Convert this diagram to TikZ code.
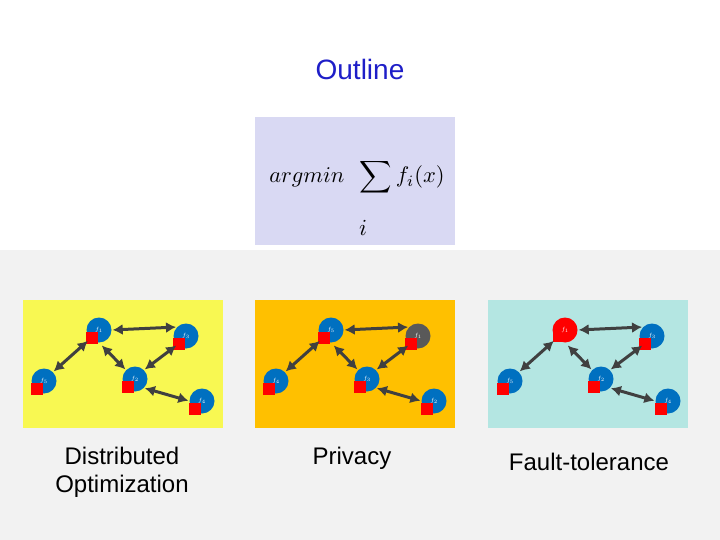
\documentclass[tikz,border=0pt]{standalone}
\usepackage{fontspec}
\setmainfont{Liberation Sans}
\usepackage{tikz}
\usetikzlibrary{arrows.meta}

\definecolor{slidegray}{RGB}{242,242,242}
\definecolor{titleblue}{RGB}{30,30,200}
\definecolor{formulabg}{RGB}{217,217,243}
\definecolor{panelyellow}{RGB}{248,248,82}
\definecolor{panelorange}{RGB}{255,192,0}
\definecolor{panelteal}{RGB}{180,230,226}
\definecolor{agentblue}{RGB}{0,112,192}
\definecolor{agentgray}{RGB}{89,89,89}
\definecolor{linkgray}{RGB}{64,64,64}

% one agent: blue blob with its red square
\newcommand{\agent}[4]{%
  \node[agent, fill=#4] (#1) at (#2) {$f_{#3}$};
  \fill[red] ([shift={(-13,2)}]#1.center) rectangle ++(12,12);
}

\begin{document}
\begin{tikzpicture}[
			x=1pt, y=-1pt,
			agent/.style={circle, minimum size=25pt, inner sep=0pt, text=white, font=\fontsize{6}{6}\selectfont},
			link/.style={{Latex[length=10pt,width=11pt]}-{Latex[length=10pt,width=11pt]}, draw=linkgray, line width=3pt, shorten <=1pt, shorten >=1pt},
			caption/.style={align=center, font=\fontsize{24}{28}\selectfont}
			]
			% Sfondo
			\useasboundingbox (0,0) rectangle (720,540);
			\fill[white] (0,0) rectangle (720,250);
			\fill[slidegray] (0,250) rectangle (720,540);
			
			% Titolo e formula
			\node[text=titleblue, font=\fontsize{28}{32}\selectfont] (title) at (360,69) {Outline};
			\fill[formulabg] (255,117) rectangle (455,245);
			\node[anchor=base] (goal) at (357,183) {\scalebox{2.25}{$argmin\enspace \displaystyle\sum f_i(x)$}};
			\node (idx) at (363,228) {\scalebox{2.3}{$i$}};
			
			% Pannelli
			\fill[panelyellow] (23,300) rectangle (223,428);
			\fill[panelorange] (255,300) rectangle (455,428);
			\fill[panelteal] (488,300) rectangle (688,428);
			
			% Distributed Optimization
			\agent{La}{99,330}{1}{agentblue}
			\agent{Lb}{186,336}{3}{agentblue}
			\agent{Lc}{44,381}{5}{agentblue}
			\agent{Ld}{135,379}{2}{agentblue}
			\agent{Le}{202,401}{4}{agentblue}
			
			% Privacy
			\agent{Ma}{331,330}{5}{agentblue}
			\agent{Mb}{418,336}{1}{agentgray}
			\agent{Mc}{276,381}{4}{agentblue}
			\agent{Md}{367,379}{3}{agentblue}
			\agent{Me}{434,401}{2}{agentblue}
			
			% Fault-tolerance
			\fill[red] (565,330) rectangle ++(-12,12);
			\node[agent, fill=red] (Ra) at (565,330) {$f_1$};
			\agent{Rb}{652,336}{3}{agentblue}
			\agent{Rc}{510,381}{5}{agentblue}
			\agent{Rd}{601,379}{2}{agentblue}
			\agent{Re}{668,401}{4}{agentblue}
			
			% Collegamenti
			\foreach \p in {L,M,R} {
				\draw[link] (\p a.east) -- (\p b.north west);
				\draw[link, shorten <=3pt] (\p a.south west) -- (\p c.north east);
				\draw[link, shorten <=4pt] (\p a.south) -- (\p d.north west);
				\draw[link] (\p b.south west) -- (\p d.north east);
				\draw[link] (\p d.south east) -- (\p e.west);
			}
			
			% Didascalie
			\node[caption] (distopt) at (122,472) {Distributed\\Optimization};
			\node[caption] (privacy) at (352,458) {Privacy};
			\node[caption] (fault) at (589,462) {Fault-tolerance};
		\end{tikzpicture}
\end{document}
